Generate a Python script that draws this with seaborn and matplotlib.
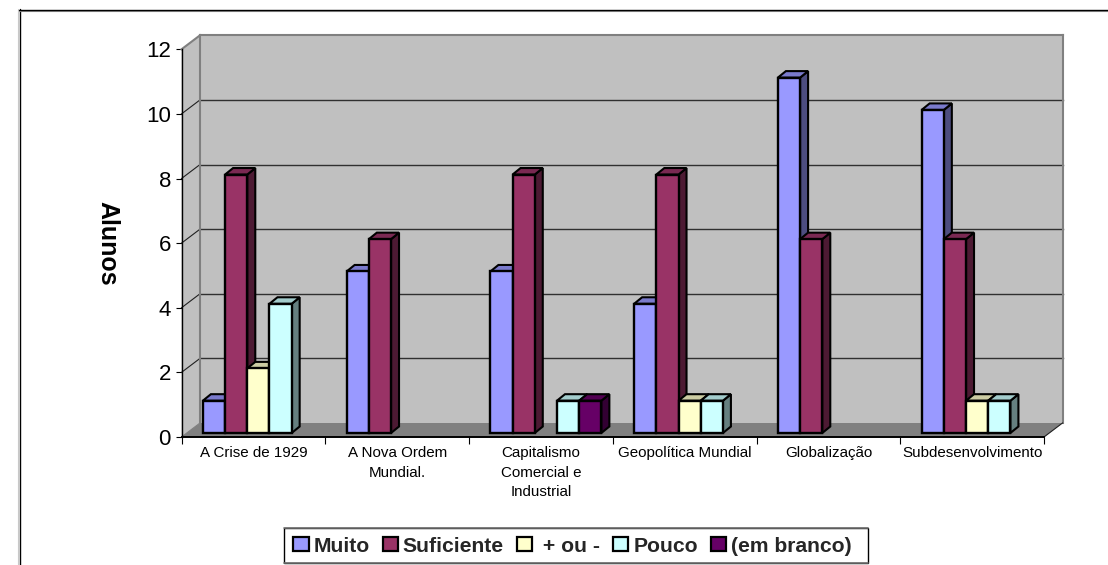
import matplotlib
matplotlib.use("Agg")
import matplotlib.pyplot as plt
import numpy as np
import pandas as pd
import seaborn as sns
from matplotlib.lines import Line2D
from matplotlib.patches import Patch, Polygon, Rectangle
from matplotlib.transforms import Affine2D, IdentityTransform

temas = ["A Crise de 1929", "A Nova Ordem\nMundial.", "Capitalismo\nComercial e\nIndustrial",
         "Geopolítica Mundial", "Globalização", "Subdesenvolvimento"]
respostas = ["Muito", "Suficiente", " + ou -", "Pouco", "(em branco)"]
muito = [1, 5, 5, 4, 11, 10]
suficiente = [8, 6, 8, 8, 6, 6]
mais_ou_menos = [2, 0, 0, 1, 0, 1]
pouco = [4, 0, 1, 1, 0, 1]
em_branco = [0, 0, 1, 0, 0, 0]
cores = ["#9999FF", "#993366", "#FFFFCC", "#CCFFFF", "#660066"]
marcas_y = [0, 2, 4, 6, 8, 10, 12]

W, H = 1108, 565
DPI = 100
# Perspective offsets, in pixels: chart floor depth, bar placement and bar depth
FUNDO = (18.5, 14.0)
FRENTE = (5.0, 4.0)
PROF = (8.0, 6.5)

sns.set_theme(style="white")
plt.rcParams["font.family"] = ["Liberation Sans", "DejaVu Sans"]

fig = plt.figure(figsize=(W / DPI, H / DPI), dpi=DPI, facecolor="white")
ax = fig.add_axes([181.5 / W, 1 - 437 / H, (1044 - 181.5) / W, (437 - 49.3) / H])
ax.patch.set_visible(False)

tabela = pd.DataFrame({
    "tema": np.tile(temas, len(respostas)),
    "resposta": np.repeat(respostas, len(temas)),
    "alunos": muito + suficiente + mais_ou_menos + pouco + em_branco,
})
tabela = tabela[tabela["alunos"] > 0]

sns.barplot(data=tabela, x="tema", y="alunos", hue="resposta", order=temas, hue_order=respostas,
            palette=dict(zip(respostas, cores)), saturation=1, width=0.772, dodge=True,
            edgecolor="black", linewidth=1.7, legend=False, errorbar=None, ax=ax)

ax.set_xlim(-0.5, len(temas) - 0.5)
ax.set_ylim(0, 12)


def tela(x, y, dx=0.0, dy=0.0):
    """Data position plus a pixel shift, in display coordinates."""
    px, py = ax.transData.transform((x, y))
    return px + dx, py + dy


def poligono(pontos, cor, borda="none", lw=0.0, z=1.0):
    ax.add_patch(Polygon(pontos, closed=True, facecolor=cor, edgecolor=borda, linewidth=lw,
                         transform=IdentityTransform(), clip_on=False, zorder=z,
                         joinstyle="miter"))


def linha(a, b, cor, lw, z=1.5):
    ax.add_line(Line2D([a[0], b[0]], [a[1], b[1]], color=cor, linewidth=lw,
                       transform=IdentityTransform(), clip_on=False, zorder=z,
                       solid_capstyle="projecting"))


# Walls and floor
x0, x1 = ax.get_xlim()
dx, dy = FUNDO
poligono([tela(x0, 0), tela(x0, 12), tela(x0, 12, dx, dy), tela(x0, 0, dx, dy)], "#C0C0C0", z=0.5)
poligono([tela(x0, 0, dx, dy), tela(x0, 12, dx, dy), tela(x1, 12, dx, dy), tela(x1, 0, dx, dy)],
         "#C0C0C0", z=0.5)
poligono([tela(x0, 0), tela(x0, 0, dx, dy), tela(x1, 0, dx, dy), tela(x1, 0)], "#808080", z=0.6)

# Gridlines run across the back wall and down the side wall
for v in marcas_y[1:-1]:
    linha(tela(x0, v), tela(x0, v, dx, dy), "#202020", 0.8)
    linha(tela(x0, v, dx, dy), tela(x1, v, dx, dy), "#303030", 1.0)

# Wall outlines
linha(tela(x0, 12), tela(x0, 12, dx, dy), "#808080", 1.5)
linha(tela(x0, 12, dx, dy), tela(x1, 12, dx, dy), "#808080", 1.5)
linha(tela(x1, 12, dx, dy), tela(x1, 0, dx, dy), "#808080", 1.5)
linha(tela(x0, 12, dx, dy), tela(x0, 0, dx, dy), "#808080", 1.5)
linha(tela(x1, 0), tela(x1, 0, dx, dy), "#202020", 0.8)
linha(tela(x0, 0), tela(x0, 0, dx, dy), "#808080", 0.8)

# Bars are drawn left to right so each one covers the side face of its neighbour
barras = sorted((b for b in ax.patches if isinstance(b, Rectangle)), key=lambda b: b.get_x())
deslocamento = ax.transData + Affine2D().translate(*FRENTE)
for i, barra in enumerate(barras):
    z = 3 + i * 0.01
    cor = np.array(barra.get_facecolor()[:3])
    esq, dir_ = barra.get_x(), barra.get_x() + barra.get_width()
    topo = barra.get_height()
    fx, fy = FRENTE
    px, py = PROF
    poligono([tela(dir_, 0, fx, fy), tela(dir_, 0, fx + px, fy + py),
              tela(dir_, topo, fx + px, fy + py), tela(dir_, topo, fx, fy)],
             tuple(cor * 0.5), "black", 1.5, z)
    poligono([tela(esq, topo, fx, fy), tela(dir_, topo, fx, fy),
              tela(dir_, topo, fx + px, fy + py), tela(esq, topo, fx + px, fy + py)],
             tuple(cor * 0.8), "black", 1.5, z)
    barra.set_transform(deslocamento)
    barra.set_clip_on(False)
    barra.set_zorder(z + 0.001)
    barra.set_joinstyle("miter")

# Axes, ticks and labels
for lado in ("top", "right"):
    ax.spines[lado].set_visible(False)
for lado in ("left", "bottom"):
    ax.spines[lado].set_color("black")
ax.spines["left"].set_linewidth(1.0)
ax.spines["bottom"].set_linewidth(1.4)

ax.set_yticks(marcas_y)
ax.tick_params(axis="y", which="major", direction="out", left=True, length=4.6, width=0.8,
               color="black", labelsize=16, labelcolor="black", pad=3)
ax.set_xticks(range(len(temas)))
ax.set_xticklabels(temas, fontsize=10.9, linespacing=1.5, color="black")
ax.set_xticks(np.arange(len(temas) + 1) - 0.5, minor=True)
ax.tick_params(axis="x", which="major", bottom=False, length=0, pad=6.5)
ax.tick_params(axis="x", which="minor", direction="out", bottom=True, length=5, width=0.8,
               color="black")
ax.set_xlabel("")
ax.set_ylabel("Alunos", rotation=270, fontsize=18, fontweight="bold", color="black", va="center")
ax.yaxis.set_label_coords(-0.0864, 0.5)

# Legend along the bottom edge, inside its own frame
moldura = IdentityTransform()
fig.add_artist(Rectangle((283.5, H - 562.5), 584.5, 34.5, facecolor="white", edgecolor="black",
                         linewidth=1.0, transform=moldura))
for y_linha in (528.0, 562.5):
    fig.add_artist(Line2D([283.5, 868], [H - y_linha, H - y_linha], color="#707070", linewidth=1.2,
                          transform=moldura))

marcadores = [Patch(facecolor=c, edgecolor="black", linewidth=1.6, label=r)
              for c, r in zip(cores, respostas)]
leg = fig.legend(handles=marcadores, ncol=5, loc="center",
                 bbox_to_anchor=(572.5 / W, 1 - 546 / H),
                 prop={"family": "Liberation Sans", "weight": "bold", "size": 15.2},
                 frameon=False, handlelength=0.72, handleheight=0.68, handletextpad=0.23,
                 columnspacing=0.62, borderpad=0, borderaxespad=0)

# Chart border: open on the right and at the bottom, with a thin grey shadow
for (xa, ya, xb, yb, c, lw) in [(18, 9, 18, H, "#C8C8C8", 0.8), (19.5, 9, 19.5, H, "black", 1.0),
                                (19, 10.5, W, 10.5, "#909090", 0.8), (19, 9.5, W, 9.5, "black", 1.0)]:
    fig.add_artist(Line2D([xa, xb], [H - ya, H - yb], color=c, linewidth=lw, transform=moldura))

fig.savefig("out.png", dpi=DPI, facecolor="white")
